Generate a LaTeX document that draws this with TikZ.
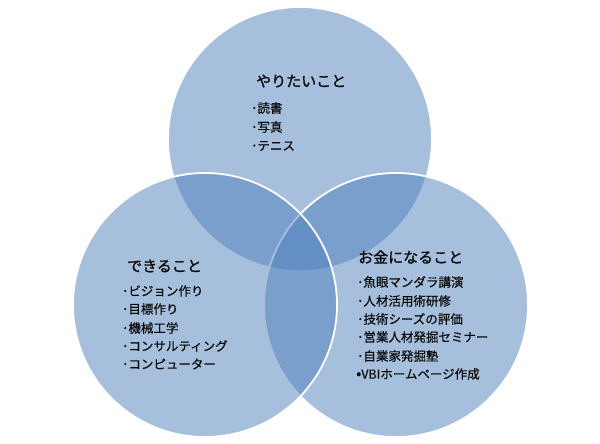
\documentclass[tikz,border=0pt]{standalone}
\usepackage{fontspec}
\setmainfont{Noto Sans CJK JP}
\newfontfamily\headfont[FakeBold=1.2]{Noto Sans CJK JP}
\newfontfamily\itemfont[FakeBold=0.4]{Noto Sans CJK JP}
\definecolor{vennblue}{RGB}{79,129,189}
\definecolor{txt}{RGB}{10,10,10}
\begin{document}
\begin{tikzpicture}[x=1pt,y=-1pt,
  venn/.style={circle, inner sep=0pt, minimum size=264pt, fill=vennblue, fill opacity=0.5, draw=white, draw opacity=1, line width=1.8pt},
  head/.style={anchor=west, inner sep=0pt, text=txt, font=\headfont\fontsize{15}{18}\selectfont},
  item/.style={anchor=west, inner sep=0pt, text=txt, font=\itemfont\fontsize{12.5}{15}\selectfont}]
\useasboundingbox (0,0) rectangle (600,444);
\fill[white] (0,0) rectangle (600,444);
\node[venn] (ctop) at (300,139) {};
\node[venn] (cright) at (396,305) {};
\node[venn] (cleft) at (205,305) {};
% top
\node[head] (h1) at (256,81) {やりたいこと};
\node[item] (a1) at (251,108) {･読書};
\node[item] (a2) at (251,127) {･写真};
\node[item] (a3) at (251,146) {･テニス};
% left
\node[head] (h2) at (127,266) {できること};
\node[item] (b1) at (122,291) {･ビジョン作り};
\node[item] (b2) at (122,309) {･目標作り};
\node[item] (b3) at (122,328) {･機械工学};
\node[item] (b4) at (122,346) {･コンサルティング};
\node[item] (b5) at (122,364) {･コンピューター};
% right
\node[head] (h3) at (358,257) {お金になること};
\node[item] (c1) at (357,282) {･魚眼マンダラ講演};
\node[item] (c2) at (357,301) {･人材活用術研修};
\node[item] (c3) at (357,319) {･技術シーズの評価};
\node[item] (c4) at (357,337) {･営業人材発掘セミナー};
\node[item] (c5) at (357,356) {･自業家発掘塾};
\node[item] (c6) at (356,374) {{\fontsize{15}{15}\selectfont •}VBIホームページ作成};
\end{tikzpicture}
\end{document}
